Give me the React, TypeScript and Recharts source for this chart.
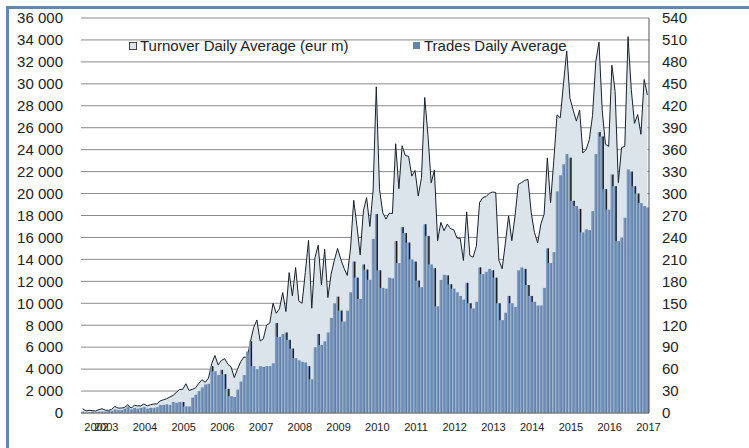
import React from 'react';
import { ComposedChart, Area, Bar, XAxis, YAxis, CartesianGrid, Legend } from 'recharts';

const FONT = '"Liberation Sans", Arial, sans-serif';

// monthly series, Jun 2002 .. Jan 2017
const START_YEAR = 2002;
const START_MONTH = 6;

// Turnover Daily Average (eur m), left axis
const turnover2002 = [390, 200, 240, 220, 180, 300, 390];
const turnover2003 = [260, 240, 330, 600, 450, 450, 500, 760, 450, 700, 650, 650];
const turnover2004 = [820, 650, 750, 820, 820, 1100, 1200, 1300, 1450, 1600, 1850, 2150];
const turnover2005 = [2150, 2670, 2060, 2150, 2300, 2700, 3030, 2800, 3180, 4500, 5240, 4390];
const turnover2006 = [4790, 4950, 4450, 4200, 3230, 4000, 4690, 5100, 5050, 6500, 7800, 8480];
const turnover2007 = [6570, 6760, 8000, 8200, 10000, 9090, 9500, 10980, 9250, 12800, 10670, 13260];
const turnover2008 = [10210, 10000, 12800, 15740, 9550, 14170, 15290, 11670, 14920, 10520, 12650, 13920];
const turnover2009 = [15000, 14000, 13200, 12540, 14950, 19390, 17060, 14410, 18420, 19630, 17000, 20230];
const turnover2010 = [29730, 20380, 18270, 17670, 18210, 18180, 24540, 20440, 24360, 23460, 23400, 21590];
const turnover2011 = [22100, 19780, 21440, 28760, 25360, 20980, 22130, 15710, 17370, 16610, 17220, 16800];
const turnover2012 = [16700, 15950, 15920, 13900, 18330, 14350, 14200, 15200, 19180, 19630, 19720, 20020];
const turnover2013 = [20140, 20100, 13900, 13150, 15500, 17970, 15710, 18000, 20830, 21000, 21200, 21290];
const turnover2014 = [18270, 16460, 15500, 17220, 18120, 23250, 19180, 23000, 27170, 26900, 30000, 33000];
const turnover2015 = [28700, 27600, 26600, 27600, 23700, 24000, 24900, 27100, 32000, 33800, 27600, 24500];
const turnover2016 = [24300, 31700, 29300, 21000, 24200, 24300, 34300, 29500, 26400, 27200, 25400, 30400];
const turnover2017 = [29000];

// Trades Daily Average, right axis
const trades2002 = [2, 1, 1, 2, 1, 2, 2];
const trades2003 = [2, 3, 3, 5, 4, 4, 6, 9, 5, 7, 6, 7];
const trades2004 = [8, 6, 7, 7, 8, 11, 11, 12, 11, 15, 14, 15];
const trades2005 = [15, 9, 9, 21, 25, 30, 35, 39, 40, 64, 57, 52];
const trades2006 = [59, 53, 33, 23, 22, 32, 43, 52, 84, 98, 64, 60];
const trades2007 = [64, 63, 64, 64, 68, 123, 104, 108, 110, 100, 88, 75];
const trades2008 = [72, 70, 69, 64, 46, 90, 108, 93, 98, 110, 130, 150];
const trades2009 = [159, 140, 125, 140, 165, 207, 185, 156, 203, 196, 182, 238];
const trades2010 = [272, 195, 171, 170, 185, 184, 235, 205, 254, 246, 233, 210];
const trades2011 = [207, 181, 172, 258, 242, 203, 198, 146, 182, 189, 188, 176];
const trades2012 = [170, 165, 160, 155, 178, 150, 143, 152, 199, 190, 193, 197];
const trades2013 = [195, 185, 150, 127, 137, 160, 150, 145, 195, 199, 197, 175];
const trades2014 = [160, 152, 147, 147, 171, 225, 205, 220, 303, 325, 340, 354];
const trades2015 = [349, 290, 283, 279, 247, 251, 250, 276, 354, 384, 378, 306];
const trades2016 = [278, 326, 310, 235, 240, 267, 333, 330, 310, 300, 287, 283];
const trades2017 = [281];

const turnover = [
  ...turnover2002, ...turnover2003, ...turnover2004, ...turnover2005, ...turnover2006,
  ...turnover2007, ...turnover2008, ...turnover2009, ...turnover2010, ...turnover2011,
  ...turnover2012, ...turnover2013, ...turnover2014, ...turnover2015, ...turnover2016,
  ...turnover2017,
];
const trades = [
  ...trades2002, ...trades2003, ...trades2004, ...trades2005, ...trades2006,
  ...trades2007, ...trades2008, ...trades2009, ...trades2010, ...trades2011,
  ...trades2012, ...trades2013, ...trades2014, ...trades2015, ...trades2016,
  ...trades2017,
];

const months = turnover.map((_, i) => {
  const m = START_MONTH - 1 + i;
  const y = START_YEAR + Math.floor(m / 12);
  return `${y}-${String((m % 12) + 1).padStart(2, '0')}`;
});

// year labels (first one sits on the first months, overlapping 2003 like the original)
const yearTicks = [
  '2002-10', '2003-01', '2004-01', '2005-01', '2006-01', '2007-01', '2008-01', '2009-01',
  '2010-01', '2011-01', '2012-01', '2013-01', '2014-01', '2015-01', '2016-01', '2017-01',
];
const leftTicks = [0, 2000, 4000, 6000, 8000, 10000, 12000, 14000, 16000, 18000, 20000, 22000, 24000, 26000, 28000, 30000, 32000, 34000, 36000];
const rightTicks = [0, 30, 60, 90, 120, 150, 180, 210, 240, 270, 300, 330, 360, 390, 420, 450, 480, 510, 540];

const data = months.map((month, i) => ({ month, turnover: turnover[i], trades: trades[i] }));

const spaced = (v: number) => String(v).replace(/\B(?=(\d{3})+(?!\d))/g, ' ');

// bar with a dark edge where the next month is lower
const TradeBar = (props: any) => {
  const { x, y, width, height, index } = props;
  if (!height || height <= 0) return null;
  const cur = trades[index];
  const next = index + 1 < trades.length ? trades[index + 1] : cur;
  const drop = next < cur ? height * (1 - next / cur) : 0;
  return (
    <g>
      <rect x={x} y={y} width={width} height={height} fill="url(#tradeFill)" />
      {drop > 4 && <rect x={x + width - 1.3} y={y} width={1.3} height={drop} fill="#1c1c1c" />}
    </g>
  );
};

const renderLegend = () => (
  <div style={{ position: 'relative', height: 18, fontFamily: FONT, fontSize: 15, color: '#222', whiteSpace: 'nowrap' }}>
    <div style={{ position: 'absolute', left: 129, top: 0, display: 'flex', alignItems: 'center' }}>
      <span style={{ width: 6, height: 6, border: '1px solid #444', background: '#dbe3eb', marginRight: 3 }} />
      <span>Turnover Daily Average (eur m)</span>
    </div>
    <div style={{ position: 'absolute', left: 413, top: 0, display: 'flex', alignItems: 'center' }}>
      <span style={{ width: 7, height: 7, background: '#6584ad', marginRight: 4 }} />
      <span>Trades Daily Average</span>
    </div>
  </div>
);

export default function App() {
  return (
    <div style={{ position: 'fixed', left: 0, top: 0, width: 749, height: 448, background: '#fff', fontFamily: FONT }}>
      <ComposedChart
        width={749}
        height={448}
        data={data}
        margin={{ top: 18, right: 0, bottom: 10, left: 0 }}
        barCategoryGap="8%"
      >
        <defs>
          <linearGradient id="tradeFill" x1="0" y1="0" x2="1" y2="0">
            <stop offset="0%" stopColor="#8aa6ca" />
            <stop offset="55%" stopColor="#6d8cb3" />
            <stop offset="100%" stopColor="#58779e" />
          </linearGradient>
        </defs>
        <CartesianGrid yAxisId="left" vertical={false} stroke="#8a8a8a" strokeWidth={1} />
        <XAxis
          dataKey="month"
          ticks={yearTicks}
          interval={0}
          tickFormatter={(v: string) => v.slice(0, 4)}
          tickLine={false}
          tickSize={0}
          tickMargin={10}
          height={25}
          axisLine={{ stroke: '#777' }}
          tick={{ fontSize: 11, fill: '#222', fontFamily: FONT, dx: 1 }}
        />
        <YAxis
          yAxisId="left"
          width={81}
          domain={[0, 36000]}
          ticks={leftTicks}
          interval={0}
          tickFormatter={spaced}
          axisLine={false}
          tickLine={false}
          tickSize={0}
          tickMargin={18}
          tick={{ fontSize: 15, fill: '#222', fontFamily: FONT }}
        />
        <YAxis
          yAxisId="right"
          orientation="right"
          width={100}
          domain={[0, 540]}
          ticks={rightTicks}
          interval={0}
          axisLine={{ stroke: '#555' }}
          tickLine={false}
          tickSize={0}
          tickMargin={13}
          tick={{ fontSize: 15, fill: '#222', fontFamily: FONT, textAnchor: 'start' }}
        />
        <Area
          yAxisId="left"
          type="linear"
          dataKey="turnover"
          name="Turnover Daily Average (eur m)"
          fill="#dbe3eb"
          fillOpacity={1}
          stroke="#17212c"
          strokeWidth={1}
          dot={false}
          activeDot={false}
          isAnimationActive={false}
        />
        <Bar
          yAxisId="right"
          dataKey="trades"
          name="Trades Daily Average"
          fill="#6584ad"
          shape={TradeBar}
          isAnimationActive={false}
        />
        <Legend
          verticalAlign="middle"
          align="center"
          content={renderLegend}
          wrapperStyle={{ left: 0, top: 37, width: 749 }}
        />
      </ComposedChart>
      <div
        style={{
          position: 'absolute',
          left: 6,
          top: 6,
          right: 0,
          bottom: 0,
          borderTop: '3px solid #6886ab',
          borderLeft: '3px solid #6886ab',
          pointerEvents: 'none',
        }}
      />
    </div>
  );
}
